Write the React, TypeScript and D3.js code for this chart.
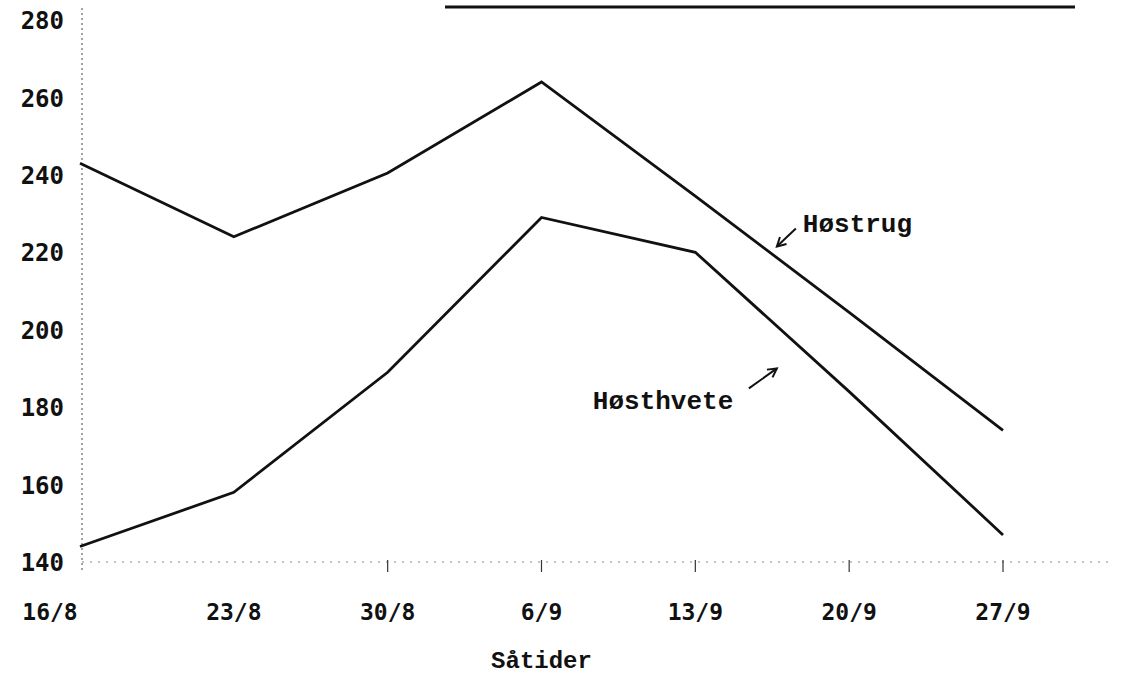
import React from "react";
import * as d3 from "d3";

const categories = ["16/8", "23/8", "30/8", "6/9", "13/9", "20/9", "27/9"];
const hostrug = [243, 224, 240.5, 264, 234.5, 204.5, 174];
const hosthvete = [144, 158, 189, 229, 220, 184, 147];
const yTicks = [140, 160, 180, 200, 220, 240, 260, 280];
const seriesLabels = ["Høstrug", "Høsthvete"];
const xTitle = "Såtider";

const W = 1122;
const H = 686;

export default function App() {
  const x = d3.scalePoint<string>().domain(categories).range([80, 1003]);
  const y = d3.scaleLinear().domain([140, 280]).range([562, 20]);
  const step = x.step();

  const line = d3
    .line<number>()
    .x((_, i) => x(categories[i]) as number)
    .y((d) => y(d));

  const axisX = (x(categories[0]) as number) + 2;
  const baseY = y(140);

  const tickFont = "'DejaVu Sans Mono', monospace";
  const typeFont = "'Liberation Mono', 'Courier New', monospace";

  // arrow tips placed relative to the scales
  const rugTip = { x: x("13/9")! + 0.53 * step, y: y(221.5) };
  const hveTip = { x: x("13/9")! + 0.53 * step, y: y(190) };

  const arrow = (x1: number, y1: number, x2: number, y2: number) => {
    const a = Math.atan2(y2 - y1, x2 - x1);
    const L = 10;
    const s = 0.5;
    const p1 = [x2 - L * Math.cos(a - s), y2 - L * Math.sin(a - s)];
    const p2 = [x2 - L * Math.cos(a + s), y2 - L * Math.sin(a + s)];
    return (
      <g stroke="#111" strokeWidth={2} fill="none">
        <line x1={x1} y1={y1} x2={x2} y2={y2} />
        <polyline points={`${p1[0]},${p1[1]} ${x2},${y2} ${p2[0]},${p2[1]}`} />
      </g>
    );
  };

  return (
    <svg
      width={W}
      height={H}
      style={{ position: "absolute", left: 0, top: 0, background: "#fff" }}
    >
      <rect width={W} height={H} fill="#fff" />
      {/* title underline (title text cut off at top) */}
      <line x1={445} x2={1075} y1={7} y2={7} stroke="#111" strokeWidth={3} />

      {/* y axis dotted */}
      <line
        x1={axisX}
        x2={axisX}
        y1={8}
        y2={baseY + 10}
        stroke="#444"
        strokeWidth={1}
        strokeDasharray="2 3"
      />
      {/* x axis dotted */}
      <line
        x1={axisX}
        x2={1110}
        y1={baseY}
        y2={baseY}
        stroke="#888"
        strokeWidth={1}
        strokeDasharray="2 6"
      />
      {categories.slice(2).map((c) => (
        <line
          key={c}
          x1={x(c)}
          x2={x(c)}
          y1={baseY - 2}
          y2={baseY + 10}
          stroke="#333"
          strokeWidth={1.2}
        />
      ))}

      {/* y tick labels */}
      {yTicks.map((t) => (
        <text
          key={t}
          x={64}
          y={y(t)}
          dy="0.38em"
          textAnchor="end"
          fontFamily={tickFont}
          fontWeight="bold"
          fontSize={24}
          fill="#111"
        >
          {t}
        </text>
      ))}

      {/* x tick labels */}
      {categories.map((c, i) => (
        <text
          key={c}
          x={(x(c) as number) + (i === 0 ? -30 : 0)}
          y={620}
          textAnchor="middle"
          fontFamily={tickFont}
          fontWeight="bold"
          fontSize={23}
          fill="#111"
        >
          {c}
        </text>
      ))}

      <text
        x={(x(categories[0])! + x(categories[categories.length - 1])!) / 2}
        y={668}
        textAnchor="middle"
        fontFamily={typeFont}
        fontWeight="bold"
        fontSize={24}
        fill="#111"
      >
        {xTitle}
      </text>

      {/* data lines */}
      <path
        d={line(hostrug) || ""}
        fill="none"
        stroke="#111"
        strokeWidth={2.8}
        strokeLinejoin="miter"
      />
      <path
        d={line(hosthvete) || ""}
        fill="none"
        stroke="#111"
        strokeWidth={2.8}
        strokeLinejoin="miter"
      />

      {/* labels with arrows */}
      <text
        x={rugTip.x + 26}
        y={rugTip.y - 14}
        fontFamily={typeFont}
        fontWeight="bold"
        fontSize={26}
        fill="#111"
      >
        {seriesLabels[0]}
      </text>
      {arrow(rugTip.x + 19, rugTip.y - 18, rugTip.x, rugTip.y)}

      <text
        x={hveTip.x - 184}
        y={hveTip.y + 41}
        fontFamily={typeFont}
        fontWeight="bold"
        fontSize={26}
        fill="#111"
      >
        {seriesLabels[1]}
      </text>
      {arrow(hveTip.x - 28, hveTip.y + 20, hveTip.x, hveTip.y)}
    </svg>
  );
}
